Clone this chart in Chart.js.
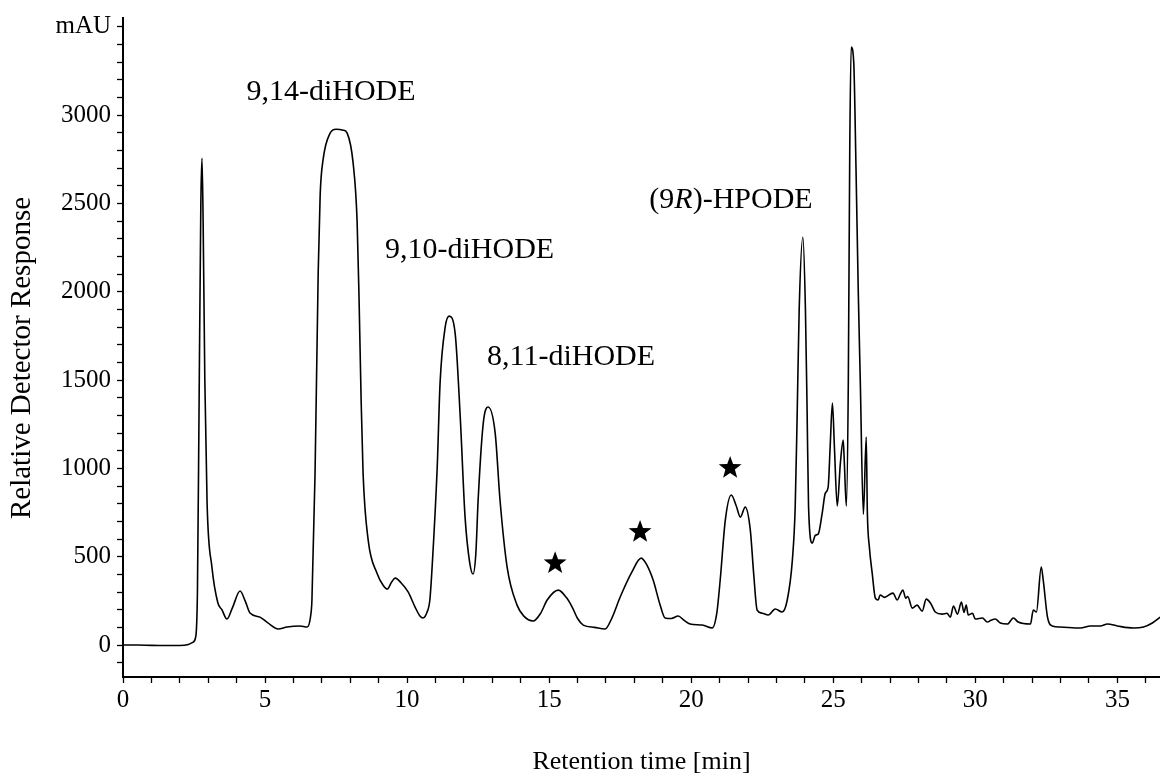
<!DOCTYPE html>
<html>
<head>
<meta charset="utf-8">
<title>Chromatogram</title>
<script src="https://cdn.jsdelivr.net/npm/chart.js@4.4.1/dist/chart.umd.min.js"></script>
<style>
  html, body { margin: 0; padding: 0; background: #fff; }
  #wrap { width: 1160px; height: 778px; position: relative; }
</style>
</head>
<body>
<div id="wrap"><canvas id="chromChart"></canvas></div>
<script>
// retention time (min) and detector signal (mAU)
const timeMin = [
    0, 0.5, 1.0, 1.5, 2.0, 2.3, 2.45, 2.55, 2.62, 2.68, 2.74, 2.78, 2.82, 2.88, 2.96,
    3.13, 3.34, 3.48, 3.66, 3.85, 4.12, 4.3, 4.47, 4.82, 5.1, 5.46, 5.77, 6.23, 6.48,
    6.6, 6.65, 6.76, 6.87, 6.94, 7.04, 7.29, 7.5, 7.75, 7.89, 8.1, 8.24, 8.31, 8.38,
    8.45, 8.63, 8.94, 9.15, 9.3, 9.45, 9.58, 9.8, 10.04, 10.28, 10.45, 10.56, 10.7,
    10.8, 10.88, 11.06, 11.16, 11.34, 11.48, 11.69, 11.87, 12.04, 12.2, 12.32, 12.42,
    12.5, 12.68, 12.85, 13.1, 13.27, 13.52, 13.87, 14.1, 14.44, 14.7, 14.93, 15.32,
    15.6, 15.81, 16.0, 16.2, 16.6, 16.97, 17.2, 17.5, 17.9, 18.24, 18.45, 18.66, 18.9,
    19.08, 19.3, 19.54, 19.75, 19.96, 20.39, 20.74, 20.9, 21.02, 21.2, 21.41, 21.58,
    21.73, 21.9, 22.08, 22.2, 22.32, 22.5, 22.71, 22.96, 23.2, 23.38, 23.56, 23.66,
    23.73, 23.8, 23.93, 24.02, 24.08, 24.13, 24.26, 24.37, 24.47, 24.61, 24.72, 24.82,
    24.89, 24.97, 25.04, 25.14, 25.25, 25.35, 25.39, 25.46, 25.53, 25.58, 25.63, 25.72,
    25.8, 25.88, 25.95, 26.06, 26.16, 26.2, 26.27, 26.37, 26.48, 26.58, 26.65, 26.8,
    27.1, 27.25, 27.35, 27.45, 27.55, 27.62, 27.78, 27.95, 28.13, 28.27, 28.42, 28.59,
    28.84, 29.0, 29.12, 29.23, 29.37, 29.51, 29.6, 29.68, 29.75, 29.9, 30.0, 30.25,
    30.42, 30.55, 30.7, 30.88, 31.13, 31.34, 31.51, 31.94, 32.04, 32.15, 32.32, 32.39,
    32.54, 32.71, 32.99, 33.7, 34.05, 34.4, 34.65, 35.0, 35.56, 35.92, 36.23, 36.51
];
const signalMAU = [
    0, 0, -2, -3, -3, 3, 15, 40, 300, 1400, 2500, 2756, 2400, 1500, 800,
    441, 238, 200, 147, 210, 306, 250, 181, 158, 125, 91, 102, 108, 102,
    160, 255, 973, 2105, 2550, 2745, 2898, 2920, 2915, 2898, 2728, 2400, 1950, 1400,
    973, 594, 407, 340, 317, 355, 379, 350, 300, 215, 165, 153, 185,
    255, 441, 1008, 1483, 1800, 1862, 1766, 1291, 724, 470, 402, 520,
    821, 1255, 1348, 1200, 821, 441, 226, 165, 136, 180, 255, 311,
    270, 215, 150, 113, 100, 91, 150, 272, 410, 492, 450, 368, 230,
    153, 150, 164, 140, 119, 113, 96, 180, 368, 707, 849, 790,
    724, 781, 651, 400, 198, 180, 170, 204, 187, 255, 481, 781,
    1313, 1900, 2309, 1900, 1313, 781, 577, 622, 628, 747, 860, 894,
    1121, 1370, 1121, 787, 1030, 1160, 1030, 787, 1500, 2800, 3386, 3300,
    2700, 2000, 1500, 741, 1177, 747, 555, 407, 266, 255, 283, 270,
    294, 255, 285, 311, 265, 275, 209, 226, 192, 260, 238, 187,
    175, 180, 158, 221, 175, 243, 185, 226, 170, 180, 147, 153,
    130, 140, 147, 125, 119, 153, 130, 119, 198, 187, 441, 368,
    158, 108, 102, 96, 108, 108, 119, 108, 96, 102, 125, 158
];

// axis ticks: labelled values and the unit shown at the top of the y axis
const yTickLabels = [0, 500, 1000, 1500, 2000, 2500, 3000];
const yUnitAt = 3500;
const yUnitLabel = 'mAU';
const xTickLabels = [0, 5, 10, 15, 20, 25, 30, 35];

// peak annotations (text parts, italic flag) and where they sit
const peakLabels = [
    [['9,14-diHODE', false]],
    [['9,10-diHODE', false]],
    [['8,11-diHODE', false]],
    [['(9', false], ['R', true], [')-HPODE', false]]
];
const peakLabelTime = [7.32, 12.2, 15.77, 21.4];
const peakLabelHeight = [3130, 2236, 1630, 2519];

// star markers over the unidentified peaks
const starTimes = [15.21, 18.2, 21.37];
const starHeights = [463, 640, 1002];

const serif = '"Liberation Serif", "Times New Roman", serif';

function drawStar(ctx, cx, cy, outer, inner) {
    ctx.beginPath();
    for (let i = 0; i < 10; i++) {
        const r = i % 2 === 0 ? outer : inner;
        const a = -Math.PI / 2 + i * Math.PI / 5;
        const px = cx + r * Math.cos(a);
        const py = cy + r * Math.sin(a);
        if (i === 0) ctx.moveTo(px, py); else ctx.lineTo(px, py);
    }
    ctx.closePath();
    ctx.fill();
}

const near = (v, list) => list.some(t => Math.abs(t - v) < 1e-6);

const overlay = {
    id: 'overlay',
    afterDatasetsDraw(chart) {
        const ctx = chart.ctx;
        const x = chart.scales.x;
        const y = chart.scales.y;
        ctx.save();
        ctx.fillStyle = '#000';
        ctx.textBaseline = 'middle';
        ctx.textAlign = 'left';

        // peak names
        peakLabels.forEach((parts, i) => {
            let total = 0;
            parts.forEach(p => {
                ctx.font = (p[1] ? 'italic ' : '') + '30px ' + serif;
                total += ctx.measureText(p[0]).width;
            });
            let px = x.getPixelForValue(peakLabelTime[i]) - total / 2;
            const py = y.getPixelForValue(peakLabelHeight[i]);
            parts.forEach(p => {
                ctx.font = (p[1] ? 'italic ' : '') + '30px ' + serif;
                ctx.fillText(p[0], px, py);
                px += ctx.measureText(p[0]).width;
            });
        });

        starTimes.forEach((t, i) => {
            drawStar(ctx, x.getPixelForValue(t), y.getPixelForValue(starHeights[i]), 12, 5);
        });

        // axis titles
        ctx.textAlign = 'center';
        ctx.font = '26px ' + serif;
        ctx.fillText('Retention time [min]', (x.left + x.right) / 2, 762);
        ctx.font = '29px ' + serif;
        ctx.translate(22, 358);
        ctx.rotate(-Math.PI / 2);
        ctx.fillText('Relative Detector Response', 0, 0);
        ctx.restore();
    }
};

const chromChart = new Chart(document.getElementById('chromChart').getContext('2d'), {
    type: 'line',
    data: {
        datasets: [{
            data: timeMin.map((t, i) => ({ x: t, y: signalMAU[i] })),
            borderColor: '#000',
            borderWidth: 1.6,
            pointRadius: 0,
            fill: false,
            cubicInterpolationMode: 'monotone'
        }]
    },
    options: {
        responsive: true,
        maintainAspectRatio: false,
        animation: false,
        layout: { padding: { top: 18, right: 0, left: 0, bottom: 0 } },
        plugins: {
            legend: { display: false },
            tooltip: { enabled: false }
        },
        scales: {
            x: {
                type: 'linear',
                min: 0,
                max: 36.5,
                afterFit: s => {
                    s.height = 101;
                    s.paddingLeft = 0;
                    s.paddingRight = 0;
                },
                ticks: {
                    stepSize: 1,
                    includeBounds: false,
                    autoSkip: false,
                    maxRotation: 0,
                    padding: 2,
                    color: '#000',
                    font: { family: serif, size: 25 },
                    callback: v => near(v, xTickLabels) ? String(Math.round(v)) : ''
                },
                grid: {
                    drawOnChartArea: false,
                    tickLength: 6,
                    tickColor: '#000',
                    tickWidth: 1.3
                },
                border: { color: '#000', width: 2 }
            },
            y: {
                type: 'linear',
                min: -181,
                max: 3550,
                afterFit: s => {
                    s.width = 123;
                    s.paddingTop = 0;
                    s.paddingBottom = 0;
                },
                ticks: {
                    stepSize: 100,
                    includeBounds: false,
                    autoSkip: false,
                    padding: 6,
                    color: '#000',
                    font: { family: serif, size: 25 },
                    callback: v => near(v, [yUnitAt]) ? yUnitLabel : (near(v, yTickLabels) ? String(Math.round(v)) : '')
                },
                grid: {
                    drawOnChartArea: false,
                    tickLength: 6,
                    tickColor: '#000',
                    tickWidth: 1.3
                },
                border: { color: '#000', width: 2 }
            }
        }
    },
    plugins: [overlay]
});
</script>
</body>
</html>
